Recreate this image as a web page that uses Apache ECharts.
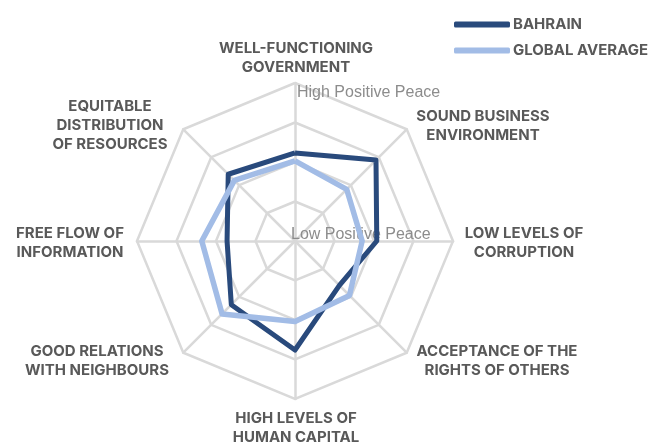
<!DOCTYPE html>
<html>
<head>
<meta charset="UTF-8">
<title>Bahrain Positive Peace</title>
<script src="https://cdn.jsdelivr.net/npm/echarts@6/dist/echarts.min.js"></script>
<style>
  html, body { margin: 0; padding: 0; background: #fff; }
  #main { width: 662px; height: 444px; }
</style>
</head>
<body>
<div id="main"></div>
<script>
// pillars, in radar order (counter-clockwise from the top)
var pillars = [
  'WELL-FUNCTIONING\nGOVERNMENT',
  'EQUITABLE\nDISTRIBUTION\nOF RESOURCES',
  'FREE FLOW OF\nINFORMATION',
  'GOOD RELATIONS\nWITH NEIGHBOURS',
  'HIGH LEVELS OF\nHUMAN CAPITAL',
  'ACCEPTANCE OF THE\nRIGHTS OF OTHERS',
  'LOW LEVELS OF\nCORRUPTION',
  'SOUND BUSINESS\nENVIRONMENT'
];
// level of positive peace, 0 = low (centre), 4 = high (outer ring)
var bahrain = [2.23, 2.39, 1.72, 2.28, 2.76, 1.59, 2.07, 2.90];
var globalAvg = [2.03, 2.17, 2.36, 2.61, 2.04, 1.95, 1.70, 1.85];
var scaleMin = 0;
var scaleMax = 4;
var scaleLabels = ['Low Positive Peace', 'High Positive Peace'];

// layout
var cx = 295, cy = 241, rad = 158;
// centre of each pillar name block
var namePos = [[296, 58], [110, 125], [70, 243], [97, 361], [296, 428], [497, 361], [524, 243], [483, 126]];

var nameFont = 'bold 15px Inter';
var grey = '#595959';

var myChart = echarts.init(document.getElementById('main'));

var graphics = [];
for (var i = 0; i < pillars.length; i++) {
  graphics.push({
    type: 'text', x: namePos[i][0], y: namePos[i][1], silent: true, z: 1,
    style: { text: pillars[i], font: nameFont, fill: grey, align: 'center', verticalAlign: 'middle', lineHeight: 19 }
  });
}
graphics.push({
  type: 'text', x: cx + 2, y: cy - rad + 10, silent: true, z: 1,
  style: { text: scaleLabels[1], font: '16px "Liberation Sans"', fill: '#8c8c8c', align: 'left', verticalAlign: 'middle' }
});
graphics.push({
  type: 'text', x: cx - 4, y: cy - 6, silent: true, z: 1,
  style: { text: scaleLabels[0], font: '16px "Liberation Sans"', fill: '#8c8c8c', align: 'left', verticalAlign: 'middle' }
});

var option = {
  animation: false,
  legend: {
    orient: 'vertical',
    left: 449,
    top: 12,
    icon: 'roundRect',
    itemWidth: 56,
    itemHeight: 6,
    itemGap: 11,
    textStyle: { fontFamily: 'Inter', fontWeight: 'bold', fontSize: 15, color: grey, padding: [0, 0, 0, -2] },
    data: ['BAHRAIN', 'GLOBAL AVERAGE']
  },
  radar: {
    center: [cx, cy],
    radius: rad,
    startAngle: 90,
    shape: 'polygon',
    splitNumber: 4,
    indicator: pillars.map(function (p) { return { name: p, min: scaleMin, max: scaleMax }; }),
    axisName: { show: false },
    splitArea: { show: false },
    splitLine: { lineStyle: { color: '#d9d9d9', width: 2.5 } },
    axisLine: { lineStyle: { color: '#d9d9d9', width: 2.5 } },
    axisTick: { show: false },
    axisLabel: { show: false }
  },
  graphic: graphics,
  series: [{
    type: 'radar',
    symbol: 'none',
    z: 3,
    data: [
      { name: 'BAHRAIN', value: bahrain,
        lineStyle: { color: '#294a7c', width: 5 }, itemStyle: { color: '#294a7c' } },
      { name: 'GLOBAL AVERAGE', value: globalAvg,
        lineStyle: { color: '#a2bce6', width: 5.5 }, itemStyle: { color: '#a2bce6' } }
    ]
  }]
};

myChart.setOption(option);
</script>
</body>
</html>
